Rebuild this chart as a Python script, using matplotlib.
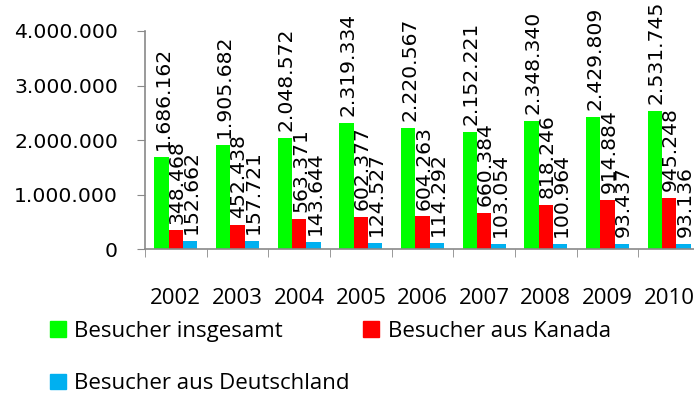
import matplotlib.pyplot as plt
import numpy as np
from matplotlib.patches import Patch

years = ["2002", "2003", "2004", "2005", "2006", "2007", "2008", "2009", "2010"]
insgesamt = [1686162, 1905682, 2048572, 2319334, 2220567, 2152221, 2348340, 2429809, 2531745]
kanada = [348468, 452438, 563371, 602377, 604263, 660384, 818246, 914884, 945248]
deutschland = [152662, 157721, 143644, 124527, 114292, 103054, 100964, 93437, 93136]

series = [
    ("Besucher insgesamt", insgesamt, "#00ff00"),
    ("Besucher aus Kanada", kanada, "#ff0000"),
    ("Besucher aus Deutschland", deutschland, "#00b0f0"),
]

def fmt(v):
    return f"{v:,}".replace(",", ".")

fig = plt.figure(figsize=(6.94, 4.19), dpi=100)
ax = fig.add_axes([145 / 694, 169.5 / 419, 555 / 694, 218.5 / 419])

x = np.arange(len(years))
w = 0.232
for i, (name, vals, col) in enumerate(series):
    pos = x + (i - 1) * w
    ax.bar(pos, vals, width=w, color=col)
    for px, v in zip(pos, vals):
        ax.annotate(fmt(v), (px, v), xytext=(1, 5), textcoords="offset points",
                    rotation=90, ha="center", va="bottom", fontsize=14.7,
                    family="DejaVu Sans", annotation_clip=False)

yt = [0, 1000000, 2000000, 3000000, 4000000]
ax.set_xlim(-0.5, len(years) - 0.5)
ax.set_ylim(0, 4000000)
ax.set_yticks(yt)
ax.set_yticklabels([fmt(t) for t in yt], fontsize=14.7, family="DejaVu Sans")
ax.tick_params(axis="y", length=6, color="#898989", pad=13.5)

ax.set_xticks(x)
ax.set_xticklabels(years, fontsize=16, family="Open Sans")
ax.tick_params(axis="x", which="major", length=0, pad=28)
ax.set_xticks(np.arange(len(years) + 1) - 0.5, minor=True)
ax.tick_params(axis="x", which="minor", length=6, color="#898989")

for s in ["top", "right"]:
    ax.spines[s].set_visible(False)
for s in ["left", "bottom"]:
    ax.spines[s].set_color("#898989")
    ax.spines[s].set_linewidth(1.2)

# column-wise fill: col 1 = insgesamt, Deutschland; col 2 = Kanada
order = [0, 2, 1]
handles = [Patch(color=series[k][2]) for k in order]
labels = [series[k][0] for k in order]
fig.legend(handles, labels, loc="upper left", bbox_to_anchor=(50 / 694, 1 - 321 / 419),
           ncol=2, frameon=False, borderpad=0, borderaxespad=0,
           handlelength=0.7, handleheight=0.7, handletextpad=0.4,
           columnspacing=0.6, labelspacing=1.4, prop={"family": "Open Sans", "size": 16})

fig.savefig("out.png", dpi=100)
